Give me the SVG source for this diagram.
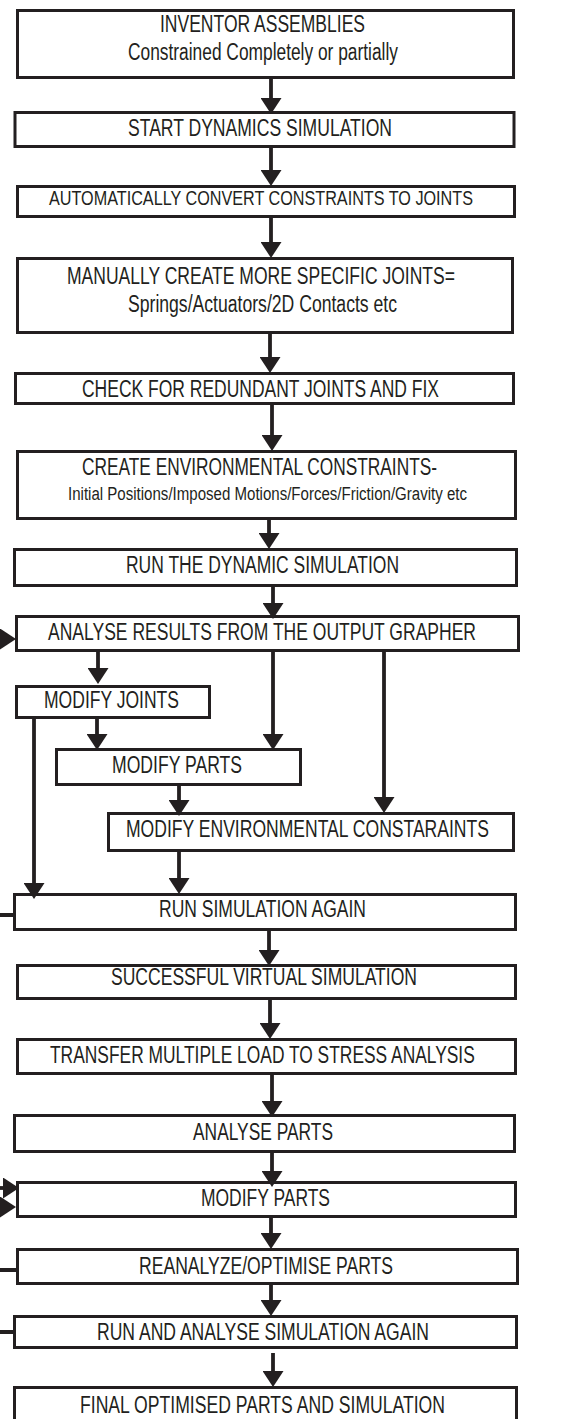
<svg xmlns="http://www.w3.org/2000/svg" width="583" height="1419" viewBox="0 0 583 1419">
<defs>
<marker id="ah" viewBox="0 0 16 21" refX="2" refY="10.5" markerWidth="16" markerHeight="21" markerUnits="userSpaceOnUse" orient="auto">
<path d="M0,0 L16,10.5 L0,21 Z" fill="#231f20"/>
</marker>
<style>
.box{fill:#fff;stroke:#231f20;stroke-width:3}
.t{font-family:"Liberation Sans",Arial,sans-serif;font-size:23px;fill:#231f20}
.m{font-size:20px}
.xs{font-size:18px}
.c{fill:none;stroke:#231f20;stroke-width:4}
.ca{fill:none;stroke:#231f20;stroke-width:3.8;marker-end:url(#ah)}
</style>
</defs>
<rect width="583" height="1419" fill="#fff"/>
<g id="n1"><rect class="box" x="17.5" y="10.5" width="496" height="67"/>
<text class="t" x="160" y="32" textLength="205" lengthAdjust="spacingAndGlyphs">INVENTOR ASSEMBLIES</text>
<text class="t" x="128" y="60" textLength="270" lengthAdjust="spacingAndGlyphs">Constrained Completely or partially</text></g>
<g id="n2"><rect class="box" x="15" y="112.5" width="499" height="34"/>
<text class="t" x="128" y="136" textLength="264" lengthAdjust="spacingAndGlyphs">START DYNAMICS SIMULATION</text></g>
<g id="n3"><rect class="box" x="17.5" y="186.5" width="497" height="30"/>
<text class="t m" x="49" y="205" textLength="424" lengthAdjust="spacingAndGlyphs">AUTOMATICALLY CONVERT CONSTRAINTS TO JOINTS</text></g>
<g id="n4"><rect class="box" x="17.5" y="258.5" width="495" height="74"/>
<text class="t" x="67" y="284" textLength="388" lengthAdjust="spacingAndGlyphs">MANUALLY CREATE MORE SPECIFIC JOINTS=</text>
<text class="t" x="128" y="312" textLength="269" lengthAdjust="spacingAndGlyphs">Springs/Actuators/2D Contacts etc</text></g>
<g id="n5"><rect class="box" x="15.5" y="373.5" width="498" height="30"/>
<text class="t" x="82" y="397" textLength="357" lengthAdjust="spacingAndGlyphs">CHECK FOR REDUNDANT JOINTS AND FIX</text></g>
<g id="n6"><rect class="box" x="17.5" y="451.5" width="498" height="67"/>
<text class="t" x="82" y="475" textLength="355" lengthAdjust="spacingAndGlyphs">CREATE ENVIRONMENTAL CONSTRAINTS-</text>
<text class="t xs" x="68" y="500" textLength="399" lengthAdjust="spacingAndGlyphs">Initial Positions/Imposed Motions/Forces/Friction/Gravity etc</text></g>
<g id="n7"><rect class="box" x="14.5" y="549.5" width="502" height="36"/>
<text class="t" x="126" y="573" textLength="273" lengthAdjust="spacingAndGlyphs">RUN THE DYNAMIC SIMULATION</text></g>
<g id="n8"><rect class="box" x="16.5" y="616.5" width="502" height="34"/>
<text class="t" transform="scale(0.8,1)" x="60" y="640" textLength="535" lengthAdjust="spacingAndGlyphs">ANALYSE RESULTS FROM THE OUTPUT GRAPHER</text></g>
<g id="n9"><rect class="box" x="16.5" y="686.5" width="193" height="31"/>
<text class="t" x="44" y="708" textLength="135" lengthAdjust="spacingAndGlyphs">MODIFY JOINTS</text></g>
<g id="n10"><rect class="box" x="56.5" y="749.5" width="244" height="35"/>
<text class="t" x="112" y="773" textLength="130" lengthAdjust="spacingAndGlyphs">MODIFY PARTS</text></g>
<g id="n11"><rect class="box" x="108.5" y="813.5" width="405" height="37"/>
<text class="t" transform="scale(0.78,1)" x="161.5" y="837" textLength="465.4" lengthAdjust="spacingAndGlyphs">MODIFY ENVIRONMENTAL CONSTARAINTS</text></g>
<g id="n12"><rect class="box" x="14.5" y="894.5" width="501" height="35"/>
<text class="t" x="159" y="917" textLength="207" lengthAdjust="spacingAndGlyphs">RUN SIMULATION AGAIN</text></g>
<g id="n13"><rect class="box" x="17.5" y="965.5" width="498" height="33"/>
<text class="t" x="111" y="985" textLength="306" lengthAdjust="spacingAndGlyphs">SUCCESSFUL VIRTUAL SIMULATION</text></g>
<g id="n14"><rect class="box" x="17.5" y="1039.5" width="498" height="34"/>
<text class="t" transform="scale(0.8,1)" x="62.5" y="1063" textLength="531" lengthAdjust="spacingAndGlyphs">TRANSFER MULTIPLE LOAD TO STRESS ANALYSIS</text></g>
<g id="n15"><rect class="box" x="14.5" y="1115.5" width="500" height="36"/>
<text class="t" x="193" y="1140" textLength="140" lengthAdjust="spacingAndGlyphs">ANALYSE PARTS</text></g>
<g id="n16"><rect class="box" x="17.5" y="1182.5" width="498" height="34"/>
<text class="t" x="201" y="1206" textLength="129" lengthAdjust="spacingAndGlyphs">MODIFY PARTS</text></g>
<g id="n17"><rect class="box" x="17.5" y="1249.5" width="500" height="34"/>
<text class="t" x="139" y="1274" textLength="254" lengthAdjust="spacingAndGlyphs">REANALYZE/OPTIMISE PARTS</text></g>
<g id="n18"><rect class="box" x="14.5" y="1316.5" width="502" height="31"/>
<text class="t" x="97" y="1340" textLength="332" lengthAdjust="spacingAndGlyphs">RUN AND ANALYSE SIMULATION AGAIN</text></g>
<g id="n19"><rect class="box" x="14.5" y="1387.5" width="502" height="50"/>
<text class="t" x="80" y="1413" textLength="365" lengthAdjust="spacingAndGlyphs">FINAL OPTIMISED PARTS AND SIMULATION</text></g>
<g id="connectors">
<path class="ca" d="M271,79 V100"/>
<path class="ca" d="M271,148 V172"/>
<path class="ca" d="M271,218 V244"/>
<path class="ca" d="M270,334 V359"/>
<path class="ca" d="M272,405 V437"/>
<path class="ca" d="M269,520 V535"/>
<path class="ca" d="M273,587 V605"/>
<path class="ca" d="M98,652 V670"/>
<path class="ca" d="M273,652 V736"/>
<path class="ca" d="M384,652 V799"/>
<path class="ca" d="M97,719 V736"/>
<path class="ca" d="M34,719 V885"/>
<path class="ca" d="M179,786 V802"/>
<path class="ca" d="M179,852 V880"/>
<path class="ca" d="M269,931 V952"/>
<path class="ca" d="M270,1000 V1025"/>
<path class="ca" d="M272,1075 V1103"/>
<path class="ca" d="M272,1153 V1173"/>
<path class="ca" d="M271,1218 V1235"/>
<path class="ca" d="M271,1285 V1302"/>
<path class="ca" d="M273,1353 V1373"/>
<path class="ca" d="M-2,639 H2"/>
<path class="c" d="M0,915 H15"/>
<path class="ca" d="M-2,1188 H5"/>
<path class="ca" d="M-2,1207 H2"/>
<path class="c" d="M0,1270 H17"/>
<path class="c" d="M0,1332 H15"/>
</g>
</svg>
